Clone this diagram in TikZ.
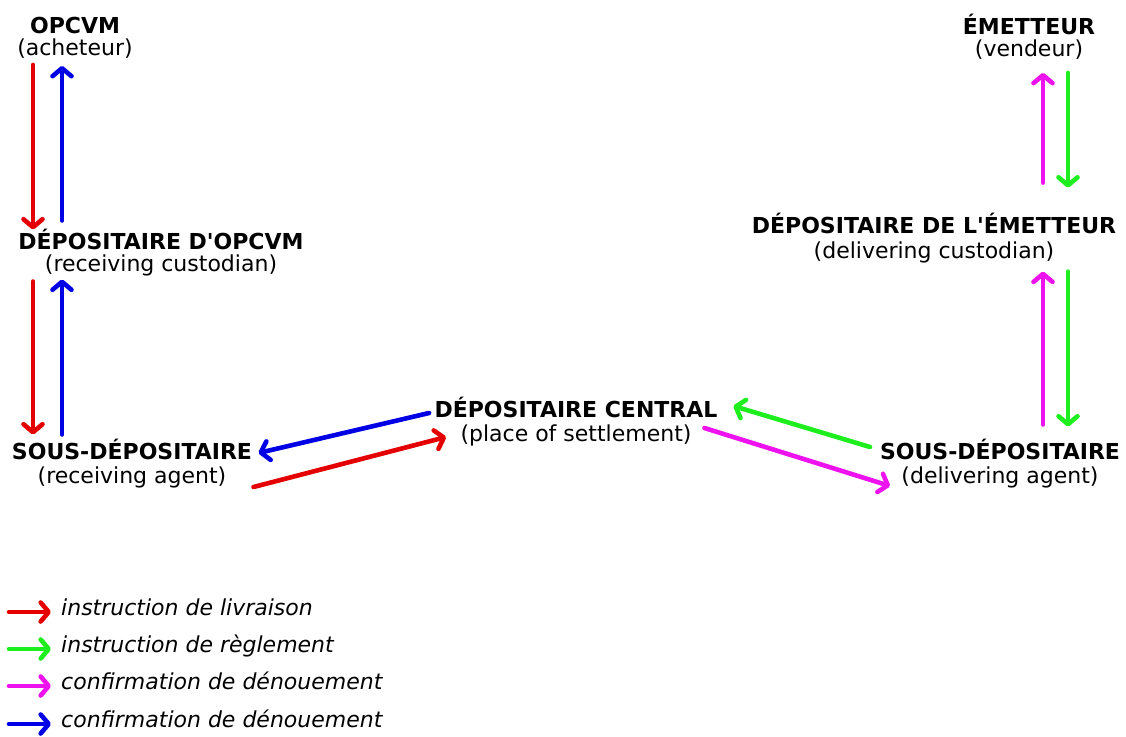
\documentclass[tikz,border=0pt]{standalone}
\usepackage{fontspec}
\setmainfont{DejaVu Sans}
\usepackage{tikz}
\usetikzlibrary{arrows.meta,calc}
\definecolor{scarlet}{HTML}{E40000}
\definecolor{lime}{HTML}{1EEE1E}
\definecolor{fuchsia}{HTML}{EE12EE}
\definecolor{cobalt}{HTML}{0000E4}
\tikzset{
  party/.style={align=center, inner sep=0pt, outer sep=0pt, font=\fontsize{22}{22}\selectfont},
  keytext/.style={anchor=base west, inner sep=0pt, font=\fontsize{22}{22}\selectfont\itshape},
  arr/.style={line width=4.6pt, line cap=round, line join=round,
              -{Straight Barb[length=8pt, width=19pt, line cap=round, line join=round]}},
  deliv/.style={arr, draw=scarlet},
  settle/.style={arr, draw=lime},
  confirm/.style={arr, draw=fuchsia},
  confirmb/.style={arr, draw=cobalt}
}

\begin{document}
\begin{tikzpicture}[x=1pt, y=-1pt]
  \useasboundingbox (0,0) rectangle (1126,736);
  % buyer side
  \node[party] (opcvm) at (75,37.3) {\textbf{OPCVM}\\(acheteur)};
  \node[party] (ddo) at (161,253) {\textbf{DÉPOSITAIRE D\textquotesingle OPCVM}\\(receiving custodian)};
  \node[party] (sdl) at (132,464) {\textbf{SOUS-DÉPOSITAIRE}\\[2pt](receiving agent)};
  % centre
  \node[party] (dc) at (576,422) {\textbf{DÉPOSITAIRE CENTRAL}\\[2pt](place of settlement)};
  % seller side
  \node[party] (sdr) at (1000,464) {\textbf{SOUS-DÉPOSITAIRE}\\[2pt](delivering agent)};
  \node[party] (dde) at (934,237.6) {\textbf{DÉPOSITAIRE DE L\textquotesingle ÉMETTEUR}\\[3pt](delivering custodian)};
  \node[party] (emet) at (1029,37.2) {\textbf{ÉMETTEUR}\\(vendeur)};

  \coordinate (colA) at (33,0);
  \coordinate (colB) at (62,0);
  \coordinate (colC) at (1043,0);
  \coordinate (colD) at (1068,0);

  % vertical pairs
  \draw[deliv, shorten <=7pt] (opcvm.south -| colA) -- (ddo.north -| colA);
  \draw[confirmb, shorten <=9pt, shorten >=8pt] (ddo.north -| colB) -- (opcvm.south -| colB);
  \draw[deliv, shorten <=5pt, shorten >=5pt] (ddo.south -| colA) -- (sdl.north -| colA);
  \draw[confirmb, shorten <=5pt, shorten >=3pt] (sdl.north -| colB) -- (ddo.south -| colB);
  \draw[confirm, shorten <=30pt, shorten >=13pt] (dde.north -| colC) -- (emet.south -| colC);
  \draw[settle, shorten <=13pt, shorten >=25pt] (emet.south -| colD) -- (dde.north -| colD);
  \draw[confirm, shorten <=15pt, shorten >=9pt] (sdr.north -| colC) -- (dde.south -| colC);
  \draw[settle, shorten <=9pt, shorten >=13pt] (dde.south -| colD) -- (sdr.north -| colD);

  % towards and from the central depositary
  \draw[confirmb] ([shift={(-5.5,-9)}]dc.west) -- ([shift={(6.5,-11)}]sdl.east);
  \draw[deliv] ([shift={(1.5,23)}]sdl.east) -- ([shift={(11.5,15)}]dc.west);
  \draw[settle] ([shift={(-10,-17)}]sdr.west) -- ([shift={(16,-16)}]dc.east);
  \draw[confirm] ([shift={(-13,6)}]dc.east) -- ([shift={(10,22)}]sdr.west);

  % legend
  \foreach \st/\yb/\txt [count=\i] in {deliv/615/instruction de livraison,
      settle/652/instruction de règlement,
      confirm/689/confirmation de dénouement,
      confirmb/727/confirmation de dénouement} {
    \coordinate (k\i) at (9,\yb-3);
    \node[keytext] (t\i) at (61,\yb) {\txt};
    \draw[\st, shorten >=10pt] (k\i) -- (k\i -| t\i.west);
  }
\end{tikzpicture}
\end{document}
